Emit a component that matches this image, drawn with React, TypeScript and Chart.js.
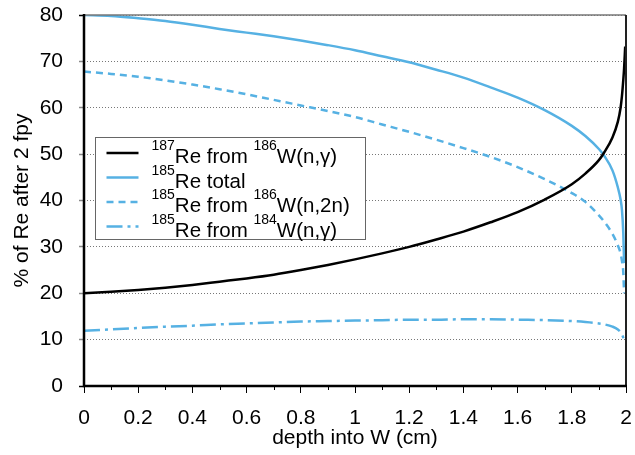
import React, { useEffect, useRef } from "react";
import { Chart, registerables } from "chart.js";

Chart.register(...registerables);

// depth into W (cm)
const depth = [0, 0.1, 0.2, 0.3, 0.4, 0.5, 0.6, 0.7, 0.8, 0.9, 1.0, 1.1, 1.2, 1.3, 1.4, 1.5, 1.6, 1.7, 1.8, 1.85, 1.9, 1.92, 1.95, 1.97, 1.98, 1.985, 1.99, 1.993, 1.997];
// 187Re from 186W(n,γ)
const re187 = [20.0, 20.3, 20.7, 21.2, 21.8, 22.5, 23.2, 24.0, 25.0, 26.1, 27.3, 28.6, 30.0, 31.6, 33.3, 35.3, 37.5, 40.2, 43.5, 45.8, 48.7, 50.4, 53.6, 57.0, 60.0, 62.5, 66.0, 68.5, 73.2];
// 185Re total
const re185Total = [80.0, 79.8, 79.3, 78.7, 77.9, 77.0, 76.2, 75.4, 74.5, 73.5, 72.4, 71.1, 69.8, 68.2, 66.5, 64.4, 62.2, 59.5, 56.1, 53.9, 51.1, 49.6, 46.5, 42.8, 40.2, 38.0, 33.0, 26.5, null];
// 185Re from 186W(n,2n)
const re185n2n = [67.8, 67.3, 66.7, 65.9, 65.0, 64.0, 62.9, 61.7, 60.5, 59.3, 58.0, 56.4, 54.8, 53.1, 51.3, 49.4, 47.2, 44.6, 41.6, 39.7, 36.8, 35.4, 32.8, 30.3, 28.6, 27.0, 24.5, 20.0, null];
// 185Re from 184W(n,γ)
const re185ng = [11.9, 12.2, 12.5, 12.8, 13.0, 13.3, 13.5, 13.7, 13.9, 14.0, 14.1, 14.2, 14.3, 14.3, 14.4, 14.4, 14.3, 14.2, 14.0, 13.8, 13.5, 13.3, 12.8, 12.2, 11.6, 11.1, 10.4, 9.5, null];

const xMin = 0, xMax = 2, xStep = 0.2;
const xMinorTicks = [0.1, 0.3, 0.5, 0.7, 0.9, 1.1, 1.3, 1.5, 1.7, 1.9];
const yMin = 0, yMax = 80, yStep = 10;

const xTitle = "depth into W (cm)";
const yTitle = "% of Re after 2 fpy";

// legend labels as [text, isSuperscript] segments
const legendLabels: [string, boolean][][] = [
  [["187", true], ["Re from ", false], ["186", true], ["W(n,\u03b3)", false]],
  [["185", true], ["Re total", false]],
  [["185", true], ["Re from ", false], ["186", true], ["W(n,2n)", false]],
  [["185", true], ["Re from ", false], ["184", true], ["W(n,\u03b3)", false]],
];

const BLUE = "#56b1e3";
const FONT = "'Liberation Sans', Arial, sans-serif";

const seriesStyles = [
  { color: "#000000", dash: [] as number[], width: 2.5 },
  { color: BLUE, dash: [] as number[], width: 2.5 },
  { color: BLUE, dash: [7, 5], width: 2.5 },
  { color: BLUE, dash: [16, 5, 3, 5], width: 2.5 },
];

const seriesValues = [re187, re185Total, re185n2n, re185ng];

const framePlugin = {
  id: "framePlugin",
  afterDatasetsDraw(chart: any) {
    const { ctx, chartArea } = chart;
    const xs = chart.scales.x;
    const { left, right, top, bottom } = chartArea;
    ctx.save();
    // minor ticks
    ctx.strokeStyle = "#000";
    ctx.lineWidth = 1;
    ctx.setLineDash([]);
    for (const v of xMinorTicks) {
      const px = Math.round(xs.getPixelForValue(v)) + 0.5;
      ctx.beginPath();
      ctx.moveTo(px, bottom);
      ctx.lineTo(px, bottom + 4);
      ctx.stroke();
    }
    // frame
    ctx.lineWidth = 1.5;
    ctx.strokeStyle = "#777";
    ctx.beginPath();
    ctx.moveTo(left, top);
    ctx.lineTo(right, top);
    ctx.stroke();
    ctx.lineWidth = 2;
    ctx.strokeStyle = "#222";
    ctx.beginPath();
    ctx.moveTo(right, top);
    ctx.lineTo(right, bottom);
    ctx.stroke();
    ctx.strokeStyle = "#000";
    ctx.lineWidth = 2.5;
    ctx.beginPath();
    ctx.moveTo(left, top - 1);
    ctx.lineTo(left, bottom);
    ctx.lineTo(right + 1, bottom);
    ctx.stroke();

    // legend
    const bx = left + 11.5;
    const by = top + 122.5;
    const bw = 270;
    const bh = 102;
    ctx.fillStyle = "#fff";
    ctx.fillRect(bx, by, bw, bh);
    ctx.strokeStyle = "#666";
    ctx.lineWidth = 1;
    ctx.strokeRect(bx, by, bw, bh);
    legendLabels.forEach((segs, i) => {
      const rowY = by + 15.5 + i * 24.5;
      const st = seriesStyles[i];
      ctx.strokeStyle = st.color;
      ctx.lineWidth = st.width;
      ctx.setLineDash(st.dash);
      ctx.beginPath();
      ctx.moveTo(bx + 11, rowY);
      ctx.lineTo(bx + 43, rowY);
      ctx.stroke();
      ctx.setLineDash([]);
      let tx = bx + 56;
      ctx.fillStyle = "#000";
      ctx.textBaseline = "alphabetic";
      ctx.textAlign = "left";
      for (const [t, sup] of segs) {
        if (sup) {
          ctx.font = `14px ${FONT}`;
          ctx.fillText(t, tx, rowY - 3);
        } else {
          ctx.font = `20.5px ${FONT}`;
          ctx.fillText(t, tx, rowY + 10);
        }
        tx += ctx.measureText(t).width;
      }
    });
    ctx.restore();
  },
};

export default function App() {
  const ref = useRef<HTMLCanvasElement | null>(null);
  useEffect(() => {
    if (!ref.current) return;
    const datasets = seriesValues.map((vals, i) => ({
      label: legendLabels[i].map((s) => s[0]).join(""),
      data: depth
        .map((x, j) => ({ x, y: vals[j] }))
        .filter((p) => p.y !== null && p.y !== undefined),
      borderColor: seriesStyles[i].color,
      borderWidth: seriesStyles[i].width,
      borderDash: seriesStyles[i].dash,
      pointRadius: 0,
      fill: false,
      cubicInterpolationMode: "monotone" as const,
    }));
    const chart = new Chart(ref.current, {
      type: "line",
      data: { datasets },
      options: {
        animation: false,
        responsive: false,
        devicePixelRatio: 1,
        layout: { padding: { top: 15, right: 9, left: 0, bottom: 0 } },
        plugins: { legend: { display: false }, tooltip: { enabled: false } },
        scales: {
          x: {
            type: "linear",
            min: xMin,
            max: xMax,
            afterFit: (s: any) => {
              s.height = 69;
              s.paddingLeft = 0;
              s.paddingRight = 0;
            },
            ticks: {
              stepSize: xStep,
              color: "#000",
              font: { family: FONT, size: 21 },
              padding: 13,
              maxRotation: 0,
              callback: (v: any) => String(Math.round(Number(v) * 10) / 10),
            },
            grid: {
              drawOnChartArea: false,
              drawTicks: true,
              tickLength: 7,
              tickColor: "#000",
              tickWidth: 1,
            },
            border: { display: false },
            title: {
              display: true,
              text: xTitle,
              color: "#000",
              font: { family: FONT, size: 21 },
              padding: { top: 0, bottom: 4 },
            },
          },
          y: {
            min: yMin,
            max: yMax,
            afterFit: (s: any) => {
              s.width = 84;
              s.paddingTop = 0;
              s.paddingBottom = 0;
            },
            ticks: {
              stepSize: yStep,
              color: "#000",
              font: { family: FONT, size: 21 },
              padding: 16,
            },
            grid: {
              color: "#777",
              lineWidth: 1,
              drawTicks: true,
              tickLength: 5,
              tickColor: (c: any) => (c.tick && (c.tick.value === 0 || c.tick.value === 80) ? "#000" : "#888"),
              tickWidth: 1.5,
            },
            border: { display: false, dash: [1, 2] },
            title: {
              display: true,
              text: yTitle,
              color: "#000",
              font: { family: FONT, size: 21 },
              padding: { top: 10, bottom: 0 },
            },
          },
        },
      },
      plugins: [framePlugin],
    });
    return () => chart.destroy();
  }, []);
  return (
    <div style={{ position: "fixed", left: 0, top: 0, width: 635, height: 455, background: "#fff" }}>
      <canvas ref={ref} width={635} height={455} style={{ width: 635, height: 455, display: "block" }} />
    </div>
  );
}
